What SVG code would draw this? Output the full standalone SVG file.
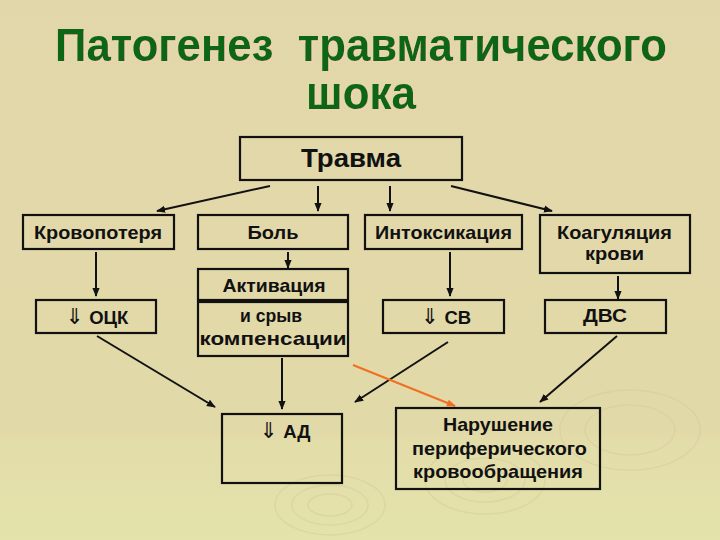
<svg xmlns="http://www.w3.org/2000/svg" width="720" height="540" viewBox="0 0 720 540">
<defs>
<linearGradient id="bg" x1="0" y1="0" x2="0" y2="1">
<stop offset="0" stop-color="#e2d7aa"/>
<stop offset="0.8" stop-color="#e2d9a8"/>
<stop offset="0.82" stop-color="#e3dda9"/>
<stop offset="1" stop-color="#e4e3ac"/>
</linearGradient>
<filter id="sh" x="-5%" y="-20%" width="110%" height="140%">
<feFlood flood-color="#f3d0b4" flood-opacity="0.75"/>
<feComposite in2="SourceAlpha" operator="in"/>
<feOffset dx="1.5" dy="1.5"/>
<feMerge><feMergeNode/><feMergeNode in="SourceGraphic"/></feMerge>
</filter>
<marker id="ah" viewBox="0 0 10 10" refX="9" refY="5" markerWidth="9" markerHeight="9" markerUnits="userSpaceOnUse" orient="auto">
<path d="M0,1 L10,5 L0,9 z" fill="#111"/>
</marker>
<marker id="aho" viewBox="0 0 10 10" refX="9" refY="5" markerWidth="9" markerHeight="9" markerUnits="userSpaceOnUse" orient="auto">
<path d="M0,1 L10,5 L0,9 z" fill="#f07020"/>
</marker>
</defs>
<style>
.box{fill:none;stroke:#111;stroke-width:2.2}
.t{font-family:"Liberation Sans","DejaVu Sans",Arial,sans-serif;font-weight:bold;font-size:18.5px;fill:#111;text-anchor:middle}
.big{font-size:26px}
.arr{font-size:22px;font-weight:normal;font-family:"DejaVu Sans",sans-serif}
.title{font-family:"Liberation Sans","DejaVu Sans",Arial,sans-serif;font-weight:bold;font-size:46px;fill:#0d6612;text-anchor:middle}
.c{stroke:#111;stroke-width:2;fill:none;marker-end:url(#ah)}
.rip{fill:none;stroke:#d2c99a;stroke-width:1.5;opacity:0.45}
</style>
<rect x="0" y="0" width="720" height="540" fill="url(#bg)"/>
<g id="ripples">
<ellipse class="rip" cx="330" cy="505" rx="55" ry="30"/>
<ellipse class="rip" cx="330" cy="505" rx="38" ry="20"/>
<ellipse class="rip" cx="330" cy="505" rx="22" ry="11"/>
<ellipse class="rip" cx="485" cy="480" rx="60" ry="34"/>
<ellipse class="rip" cx="485" cy="480" rx="40" ry="22"/>
<ellipse class="rip" cx="485" cy="480" rx="22" ry="12"/>
<ellipse class="rip" cx="630" cy="430" rx="70" ry="40"/>
<ellipse class="rip" cx="630" cy="430" rx="45" ry="25"/>
</g>
<g id="title" filter="url(#sh)">
<text class="title" x="361" y="61" textLength="612" lengthAdjust="spacingAndGlyphs" xml:space="preserve">Патогенез  травматического</text>
<text class="title" x="361" y="109" textLength="110" lengthAdjust="spacingAndGlyphs">шока</text>
</g>
<g id="connectors">
<line class="c" x1="270" y1="186" x2="157" y2="211"/>
<line class="c" x1="318" y1="186" x2="318" y2="211"/>
<line class="c" x1="390" y1="186" x2="390" y2="211"/>
<line class="c" x1="451" y1="186" x2="552" y2="211"/>
<line class="c" x1="96" y1="252" x2="96" y2="296"/>
<line class="c" x1="288" y1="252" x2="288" y2="268"/>
<line class="c" x1="450" y1="252" x2="450" y2="296"/>
<line class="c" x1="618" y1="276" x2="618" y2="299"/>
<line class="c" x1="97" y1="336" x2="215" y2="407"/>
<line class="c" x1="282" y1="358" x2="282" y2="409"/>
<line class="c" x1="448" y1="342" x2="355" y2="402"/>
<line class="c" x1="617" y1="336" x2="540" y2="402"/>
<line x1="353" y1="365" x2="455" y2="406" stroke="#f07020" stroke-width="2" marker-end="url(#aho)"/>
</g>
<g id="travma">
<rect class="box" x="240" y="137" width="222" height="43"/>
<text class="t big" x="351" y="167" textLength="100" lengthAdjust="spacingAndGlyphs">Травма</text>
</g>
<g id="krovopoterya">
<rect class="box" x="23" y="215" width="151" height="34"/>
<text class="t" x="98" y="239" textLength="128" lengthAdjust="spacingAndGlyphs">Кровопотеря</text>
</g>
<g id="bol">
<rect class="box" x="198" y="215" width="150" height="34"/>
<text class="t" x="273" y="239" textLength="51" lengthAdjust="spacingAndGlyphs">Боль</text>
</g>
<g id="intoksikaciya">
<rect class="box" x="365" y="215" width="157" height="34"/>
<text class="t" x="443.5" y="239" textLength="137" lengthAdjust="spacingAndGlyphs">Интоксикация</text>
</g>
<g id="koagulyaciya">
<rect class="box" x="540" y="215" width="150" height="58"/>
<text class="t" x="614.5" y="239" textLength="115" lengthAdjust="spacingAndGlyphs">Коагуляция</text>
<text class="t" x="614.5" y="260" textLength="59" lengthAdjust="spacingAndGlyphs">крови</text>
</g>
<g id="aktivaciya">
<rect class="box" x="198" y="269" width="150" height="31"/>
<text class="t" x="274" y="292" textLength="103" lengthAdjust="spacingAndGlyphs">Активация</text>
</g>
<g id="sryv">
<rect class="box" x="198" y="302" width="150" height="54"/>
<text class="t" x="271" y="322" textLength="62" lengthAdjust="spacingAndGlyphs">и срыв</text>
<text class="t" x="273" y="345" textLength="147" lengthAdjust="spacingAndGlyphs">компенсации</text>
</g>
<g id="ock">
<rect class="box" x="36" y="300" width="120" height="33"/>
<text class="t" x="97" y="324"><tspan class="arr">⇓</tspan> ОЦК</text>
</g>
<g id="sv">
<rect class="box" x="383" y="300" width="121" height="33"/>
<text class="t" x="446" y="324"><tspan class="arr">⇓</tspan> СВ</text>
</g>
<g id="dvs">
<rect class="box" x="545" y="300" width="121" height="33"/>
<text class="t" x="605" y="322" textLength="44" lengthAdjust="spacingAndGlyphs">ДВС</text>
</g>
<g id="ad">
<rect class="box" x="222" y="414" width="120" height="69"/>
<text class="t" x="285" y="438"><tspan class="arr">⇓</tspan> АД</text>
</g>
<g id="narushenie">
<rect class="box" x="396" y="408" width="204" height="81"/>
<text class="t" x="498" y="431" textLength="110" lengthAdjust="spacingAndGlyphs">Нарушение</text>
<text class="t" x="499.5" y="455" textLength="175" lengthAdjust="spacingAndGlyphs">периферического</text>
<text class="t" x="498" y="478" textLength="170" lengthAdjust="spacingAndGlyphs">кровообращения</text>
</g>
</svg>
